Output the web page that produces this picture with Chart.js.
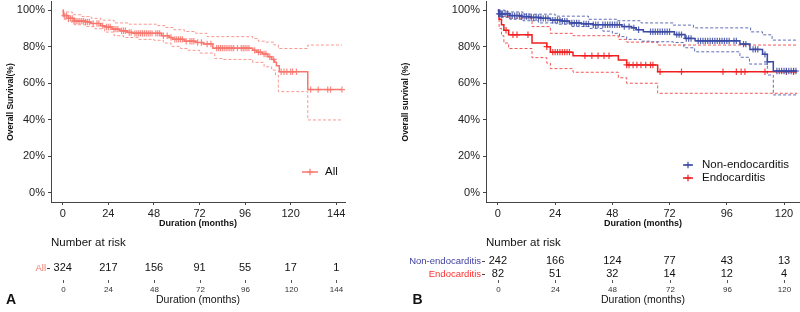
<!DOCTYPE html>
<html>
<head>
<meta charset="utf-8">
<script src="https://cdn.jsdelivr.net/npm/chart.js@4.4.1/dist/chart.umd.min.js"></script>
<style>
body { margin: 0; background: #fff; }
#wrap { position: relative; width: 800px; height: 312px; }
canvas { position: absolute; top: 0; }
</style>
</head>
<body>
<div id="wrap">
  <canvas id="chartA" width="400" height="312" style="left:0"></canvas>
  <canvas id="chartB" width="400" height="312" style="left:400px"></canvas>
</div>
<script>
// ---- Panel A: all patients (time in months, survival in %) ----
const ticksA = [0, 24, 48, 72, 96, 120, 144];
const survAll = [[0,100],[0.3,97],[3,95.5],[6,94],[12,93.5],[15,92.7],[20,91.5],[22,90.8],[26,89.6],[30,88.7],[34,87.8],[37,87.3],[52,86],[56,85],[58,84],[64,83],[70,82.3],[74,81.5],[79,79.2],[100,78],[102,77],[105,76],[108,74.5],[110,73],[111.5,71.5],[112.5,69.5],[114,66.3],[129,56.5],[147,56.5]];
const upperAll = [[0,100],[0.3,99],[5,97.5],[10,96.5],[15,95.5],[20,94.5],[27,93],[35,92.3],[50,91.5],[54,90.5],[58,89.3],[64,88.3],[70,87.3],[76,85.5],[100,84.5],[103,83],[107,82.5],[111,81],[113.5,79],[129,80.9],[147,80.9]];
const lowerAll = [[0,100],[0.3,95],[3,93.5],[6,92],[12,91],[17,89.8],[22,88],[27,86],[32,85],[40,84],[48,83.5],[53,82],[57,80.2],[62,79],[66,78],[72,76.5],[80,73.5],[84,73],[100,71.4],[106,69],[110,67.2],[112,64.5],[113.5,55.4],[129,39.9],[147,39.9]];
const censorAll = [1,2,3,4,5,6,7,8,9,10,11,12,13,14,16,18,19,21,23,24,25,27,28,29,31,32,33,35,36,38,39,40,41,42,43,44,45,46,47,49,50,51,53,55,57,59,60,61,62,63,65,67,68,69,71,73,76,78,81,82,83,84,85,86,87,88,89,90,92,94,95,96,97,98,101,103,104,106,107,109,111,115,116.5,118,120,121,123,130.5,134.5,139.5,141,147];
const riskAll = [324, 217, 156, 91, 55, 17, 1];

// ---- Panel B: non-endocarditis vs endocarditis ----
const ticksB = [0, 24, 48, 72, 96, 120];
const survNon = [[0,100],[0.3,98],[5,97],[10,96.5],[14,96],[18,95.5],[22,94.5],[27,94],[30,93],[35,92.5],[40,92],[52,91],[56,90.3],[58,89.3],[61,88.2],[74,86.6],[78.5,84.5],[82.7,83.2],[101.5,81.4],[105.7,78.5],[111,75.8],[113,71.7],[115.5,66.7],[125.5,66.7]];
const upperNon = [[0,100],[3,99],[10.5,97.8],[24,96.7],[38,95],[50,94.2],[60,93],[73.5,91.8],[82,90.3],[106,88.1],[111,86.5],[115,83.6],[125.5,83.6]];
const lowerNon = [[0,100],[0.3,96],[5,95],[10.5,94.2],[17,93],[24.7,92.3],[31,91],[38.6,90],[44,88.5],[48,87.3],[51,85.5],[54,84],[60,83],[64,82.7],[73.5,82.3],[78,79.4],[82.5,77.2],[101.5,74.2],[105.5,70.5],[113,64.5],[115.5,53.6],[125.5,53.6]];
const censorNon = [0.5,1,1.5,2,3,4,5,6,7,8,9,10,11,12,13,14,15,16,17,18,19,20,21,23,24,25,26,27,28,29,31,32,33,34,36,37,38,40,41,42,44,45,46,47,48,49,50,51,53,55,57,59,64,65,66,67,68,69,70,71,72,75,76,77,79,80,81,84,85,86,87,88,89,90,91,92,93,94,95,96,97,99,100,103,104,107,108,109,112,113,117,118,119,120,121,122,123,124,125];
const riskNon = [242, 166, 124, 77, 43, 13];

const survEndo = [[0,100],[0.5,95],[1.5,92],[2.5,89],[4.5,86.5],[14.3,82],[20.5,80],[22,77],[31.5,75],[50.5,72.7],[54,70],[67,66.3],[125.5,66.3]];
const upperEndo = [[0,100],[0.5,98],[1.5,96.5],[4.5,95.6],[14.3,91],[22,87.3],[31.5,86],[50.5,84],[54,82.5],[67,80.9],[125.5,80.9]];
const lowerEndo = [[0,100],[0.5,90],[1.5,86],[2.5,82],[4.5,79],[14.3,74],[20.5,71],[22,68],[31.5,66],[50.5,63],[54,60],[67,54.5],[125.5,54.5]];
const censorEndo = [3.4,6.3,8,12.6,20.5,23,24,25,26,27,28,29,30,36.5,39.4,42,44.5,46.6,54,55,56.7,58.3,60,62,64,65,68,77,94.4,100,102,103.6,112,121,124];
const riskEndo = [82, 51, 32, 14, 12, 4];

const FONT = "'Liberation Sans', Arial, sans-serif";
const SALMON = '#F8766D';
const BLUE = '#3A4AA5';
const RED = '#F01E1E';

function toPts(steps) {
  return steps.map(([x, y]) => ({ x, y }));
}

// value of a KM step curve at time t
function survAt(steps, t) {
  let v = steps[0][1];
  for (const [x, y] of steps) {
    if (x <= t) v = y;
  }
  return v;
}

function curveSets(surv, upper, lower, censor, color, ciColor, markColor) {
  const line = { type: 'line', stepped: true, pointRadius: 0, fill: false };
  return [
    { ...line, data: toPts(upper), borderColor: ciColor, borderWidth: 1, borderDash: [3, 2] },
    { ...line, data: toPts(lower), borderColor: ciColor, borderWidth: 1, borderDash: [3, 2] },
    { ...line, data: toPts(surv), borderColor: color, borderWidth: 1.5 },
    {
      type: 'scatter',
      data: censor.map(t => ({ x: t, y: survAt(surv, t) })),
      pointStyle: 'cross', pointRadius: 3.2, borderWidth: 1.2,
      borderColor: markColor, showLine: false
    }
  ];
}

function drawCross(ctx, x, y, r) {
  ctx.beginPath();
  ctx.moveTo(x - r, y); ctx.lineTo(x + r, y);
  ctx.moveTo(x, y - r); ctx.lineTo(x, y + r);
  ctx.stroke();
}

// titles, legend and number-at-risk table, placed with the chart's x scale
function annotations(cfg) {
  return {
    id: 'annotations',
    afterDraw(chart) {
      const ctx = chart.ctx;
      const xs = chart.scales.x;
      const area = chart.chartArea;
      const mid = (area.left + area.right) / 2;
      ctx.save();
      ctx.textBaseline = 'middle';

      // y title
      ctx.save();
      ctx.translate(cfg.yTitleX, 102);
      ctx.rotate(-Math.PI / 2);
      ctx.font = 'bold 8.5px ' + FONT;
      ctx.fillStyle = '#111';
      ctx.textAlign = 'center';
      ctx.fillText(cfg.yTitle, 0, 0);
      ctx.restore();

      // x title
      ctx.font = 'bold 9px ' + FONT;
      ctx.fillStyle = '#111';
      ctx.textAlign = 'center';
      ctx.fillText('Duration (months)', mid, 224);

      // legend
      cfg.legend.forEach(l => {
        ctx.strokeStyle = l.color;
        ctx.lineWidth = 1.5;
        ctx.beginPath();
        ctx.moveTo(cfg.legendX - cfg.legendLen, l.y);
        ctx.lineTo(cfg.legendX, l.y);
        ctx.stroke();
        ctx.lineWidth = 1.2;
        drawCross(ctx, cfg.legendX - cfg.legendLen / 2, l.y, 3.2);
        ctx.font = '11.5px ' + FONT;
        ctx.fillStyle = '#111';
        ctx.textAlign = 'left';
        ctx.fillText(l.label, cfg.legendX + cfg.legendGap, l.y);
      });

      // number at risk
      ctx.font = '11.5px ' + FONT;
      ctx.fillStyle = '#111';
      ctx.textAlign = 'left';
      ctx.fillText('Number at risk', area.left, 243);

      cfg.rows.forEach(r => {
        ctx.font = '9.5px ' + FONT;
        ctx.fillStyle = r.color;
        ctx.textAlign = 'right';
        ctx.fillText(r.label, area.left - 5, r.y);
        ctx.strokeStyle = '#444';
        ctx.lineWidth = 1;
        ctx.beginPath();
        ctx.moveTo(area.left - 4, r.y + 0.5);
        ctx.lineTo(area.left - 1, r.y + 0.5);
        ctx.stroke();
        ctx.font = '11px ' + FONT;
        ctx.fillStyle = '#111';
        ctx.textAlign = 'center';
        r.values.forEach((v, i) => {
          ctx.fillText(String(v), xs.getPixelForValue(cfg.ticks[i]), r.y);
        });
      });

      // table x axis
      ctx.strokeStyle = '#555';
      ctx.lineWidth = 1;
      ctx.font = '8px ' + FONT;
      ctx.fillStyle = '#333';
      ctx.textAlign = 'center';
      cfg.ticks.forEach(t => {
        const px = Math.round(xs.getPixelForValue(t)) + 0.5;
        ctx.beginPath();
        ctx.moveTo(px, 280);
        ctx.lineTo(px, 283);
        ctx.stroke();
        ctx.fillText(String(t), px, 289.5);
      });
      ctx.font = '10.5px ' + FONT;
      ctx.fillStyle = '#111';
      ctx.fillText('Duration (months)', mid, 300);

      // panel letter
      ctx.font = 'bold 14px ' + FONT;
      ctx.fillText(cfg.letter, cfg.letterX, 300);
      ctx.restore();
    }
  };
}

function makeChart(id, cfg) {
  const axisStyle = {
    grid: { display: true, drawOnChartArea: false, drawTicks: true, tickLength: 3, color: '#444', lineWidth: 1 },
    border: { display: true, color: '#444', width: 1 }
  };
  new Chart(document.getElementById(id), {
    type: 'scatter',
    data: { datasets: cfg.datasets },
    options: {
      responsive: false,
      animation: false,
      events: [],
      layout: { autoPadding: false, padding: { left: 0, right: cfg.rightPad, top: 1, bottom: 0 } },
      plugins: { legend: { display: false }, tooltip: { enabled: false } },
      scales: {
        x: {
          type: 'linear', min: cfg.xMin, max: cfg.xMax,
          afterBuildTicks: s => { s.ticks = cfg.ticks.map(v => ({ value: v })); },
          afterFit: s => { s.height = 110; s.paddingLeft = 0; s.paddingRight = 0; },
          ticks: { autoSkip: false, maxRotation: 0, padding: 2, color: '#222', font: { family: FONT, size: 11 } },
          ...axisStyle
        },
        y: {
          type: 'linear', min: -5, max: 105,
          afterBuildTicks: s => { s.ticks = [0, 20, 40, 60, 80, 100].map(v => ({ value: v })); },
          afterFit: s => { s.width = cfg.yWidth; s.paddingTop = 0; s.paddingBottom = 0; },
          ticks: { padding: 3, color: '#222', font: { family: FONT, size: 11 }, callback: v => v + '%' },
          ...axisStyle
        }
      }
    },
    plugins: [annotations(cfg)]
  });
}

makeChart('chartA', {
  xMin: -6.2, xMax: 148.6, yWidth: 51, rightPad: 55,
  ticks: ticksA,
  datasets: curveSets(survAll, upperAll, lowerAll, censorAll, SALMON, 'rgba(248,118,109,0.75)', 'rgba(248,118,109,0.85)'),
  yTitle: 'Overall Survival(%)', yTitleX: 11,
  legendX: 318, legendLen: 16, legendGap: 7,
  legend: [{ label: 'All', color: SALMON, y: 172 }],
  rows: [{ label: 'All', color: SALMON, values: riskAll, y: 268 }],
  letter: 'A', letterX: 11
});

makeChart('chartB', {
  xMin: -5, xMax: 126.7, yWidth: 86, rightPad: 0,
  ticks: ticksB,
  datasets: [
    ...curveSets(survNon, upperNon, lowerNon, censorNon, BLUE, 'rgba(58,74,165,0.8)', 'rgba(58,74,165,0.85)'),
    ...curveSets(survEndo, upperEndo, lowerEndo, censorEndo, RED, 'rgba(240,30,30,0.75)', 'rgba(240,30,30,0.85)')
  ],
  yTitle: 'Overall survival (%)', yTitleX: 6,
  legendX: 293, legendLen: 10, legendGap: 9,
  legend: [
    { label: 'Non-endocarditis', color: BLUE, y: 165 },
    { label: 'Endocarditis', color: RED, y: 178 }
  ],
  rows: [
    { label: 'Non-endocarditis', color: '#4040A0', values: riskNon, y: 261 },
    { label: 'Endocarditis', color: '#FF3030', values: riskEndo, y: 274 }
  ],
  letter: 'B', letterX: 17.5
});
</script>
</body>
</html>
